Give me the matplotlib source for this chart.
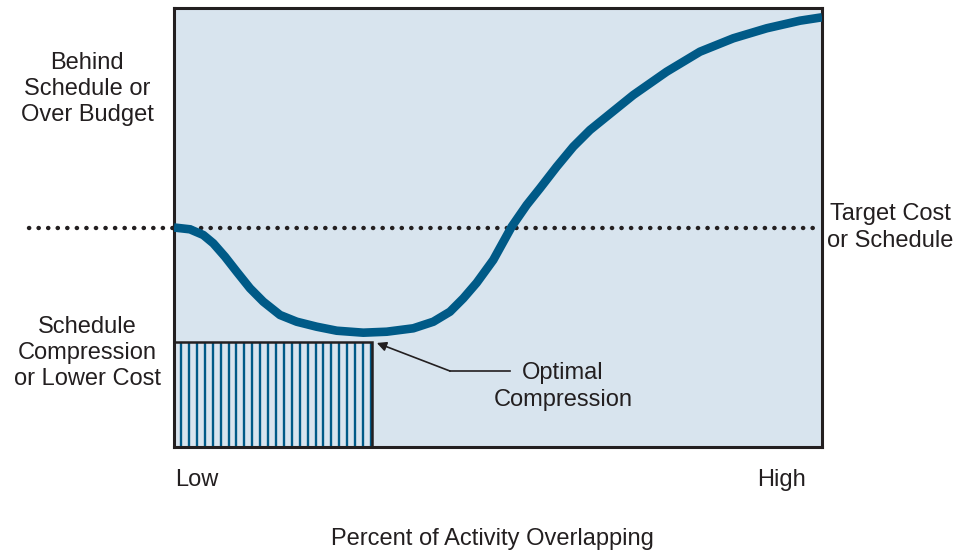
import numpy as np
import matplotlib.pyplot as plt

plt.rcParams['font.family'] = ['Liberation Sans', 'DejaVu Sans']

# curve (x: 0-100 overlap, y: 0-100 cost/schedule)
curve_x = [0, 2.47, 4.52, 6.06, 7.87, 9.68, 11.73, 13.78, 16.36, 18.94, 22.02,
           25.11, 29.21, 32.82, 36.93, 40.02, 42.59, 44.65, 46.71, 49.27, 52.11,
           54.43, 56.48, 59.06, 61.62, 64.20, 66.77, 70.88, 76.03, 81.17, 86.31,
           91.47, 96.6, 100]
curve_y = [50.0, 49.59, 48.29, 46.40, 43.35, 39.93, 36.15, 33.10, 30.07, 28.54,
           27.40, 26.49, 26.04, 26.26, 27.04, 28.54, 30.82, 33.87, 37.4, 42.60,
           50.18, 55.13, 58.93, 63.85, 68.41, 72.21, 75.28, 80.18, 85.49, 90.05,
           93.10, 95.38, 97.11, 97.88]
target = 50
optimal_x = 30.6
optimal_y = 24

blue = '#005a87'
fill = '#d8e4ee'
dark = '#231f20'

fig = plt.figure(figsize=(9.6, 5.51), dpi=100)
ax = fig.add_axes([174 / 960, 104 / 551, 648 / 960, 439 / 551])
ax.set_xlim(0, 100)
ax.set_ylim(0, 100)
ax.set_facecolor(fill)
for s in ax.spines.values():
    s.set_color(dark)
    s.set_linewidth(2.2)
ax.set_xticks([])
ax.set_yticks([])

# hatched optimal region
ax.vlines(np.arange(1.1, optimal_x, 1.22), 0, optimal_y, color=blue, lw=1.7, zorder=2)
ax.add_patch(plt.Rectangle((0, 0), optimal_x, optimal_y, fill=False, ec=dark, lw=1.8, zorder=3))

# target line
ax.plot([-22.3, 100], [target, target], color=dark, lw=3.2,
        linestyle=(0, (0.05, 2.1)), dash_capstyle='round', clip_on=False, zorder=2)

ax.plot(curve_x, curve_y, color=blue, lw=6.2, solid_capstyle='butt',
        solid_joinstyle='round', zorder=4)

# pointer to optimal compression
ax.plot([51.9, 42.6], [17.3, 17.3], color=dark, lw=1.2, zorder=3)
ax.annotate('', xy=(31.3, 23.7), xytext=(42.6, 17.3),
            arrowprops=dict(arrowstyle='-|>', color=dark, lw=1.2,
                            mutation_scale=14, shrinkA=0, shrinkB=0), zorder=5)
ax.text(60.0, 13.8, 'Optimal\nCompression', ha='center', va='center',
        fontsize=17, color=dark, linespacing=1.25)

ax.text(-13.4, 81.5, 'Behind\nSchedule or\nOver Budget', ha='center', va='center',
        fontsize=17, color=dark, linespacing=1.25)
ax.text(-13.4, 21.4, 'Schedule\nCompression\nor Lower Cost', ha='center', va='center',
        fontsize=17, color=dark, linespacing=1.25)
ax.text(110.5, 50, 'Target Cost\nor Schedule', ha='center', va='center',
        fontsize=17, color=dark, linespacing=1.25)
ax.text(3.5, -7.5, 'Low', ha='center', va='center', fontsize=17, color=dark)
ax.text(93.8, -7.5, 'High', ha='center', va='center', fontsize=17, color=dark)
ax.text(49.1, -21, 'Percent of Activity Overlapping', ha='center', va='center',
        fontsize=17, color=dark)

fig.savefig('out.png', dpi=100)
